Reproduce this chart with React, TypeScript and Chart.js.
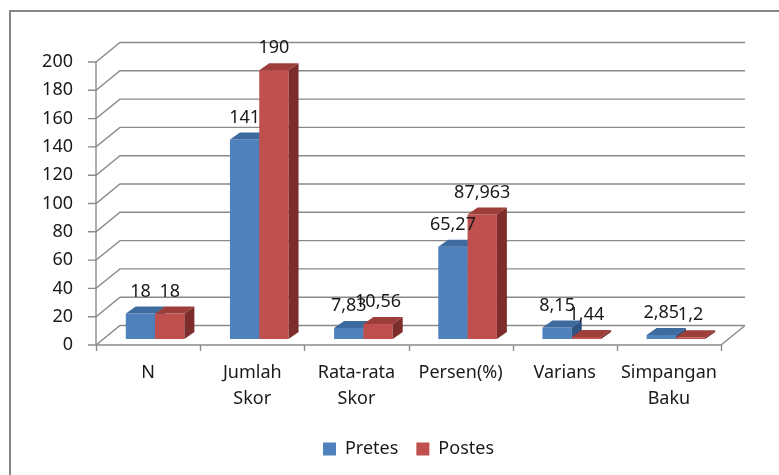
import React, { useEffect, useRef } from "react";
import { Chart, registerables } from "chart.js";

Chart.register(...registerables);

const categories: (string | string[])[] = [
  "N",
  ["Jumlah", "Skor"],
  ["Rata-rata", "Skor"],
  "Persen(%)",
  "Varians",
  ["Simpangan", "Baku"],
];
const pretesValues = [18, 141, 7.83, 65.27, 8.15, 2.85];
const postesValues = [18, 190, 10.56, 87.963, 1.44, 1.2];
const seriesNames = ["Pretes", "Postes"];
const yTicks = { min: 0, max: 200, step: 20 };

const FONT = "'Noto Sans', sans-serif";
const TEXT = "#1a1a1a";
const GRID = "#8a8a8a";
const FRONT = ["#4F81BD", "#C0504D"];
const TOP = ["#3E6B9F", "#9E3E3B"];
const SIDE = ["#2F5482", "#7D2D2B"];

// 3D geometry
const WALL_DX = 24;
const WALL_DY = -19.5;
const BAR_OFF_X = 7;
const BAR_OFF_Y = -6;
const BAR_DX = 10;
const BAR_DY = -7;

const fmt = (v: number) => String(v).replace(".", ",");

const threeD = {
  id: "threeD",
  beforeDatasetsDraw(chart: any) {
    const { ctx, chartArea, scales } = chart;
    const y = scales.y;
    ctx.save();
    // outer border
    ctx.strokeStyle = "#868686";
    ctx.lineWidth = 2;
    ctx.strokeRect(10, 11, 900, 600);

    ctx.strokeStyle = GRID;
    ctx.lineWidth = 1.4;
    const L = chartArea.left;
    const R = chartArea.right;
    // gridlines on wall
    y.ticks.forEach((t: any) => {
      const py = y.getPixelForValue(t.value);
      ctx.beginPath();
      ctx.moveTo(L - 8, py);
      ctx.lineTo(L, py);
      ctx.lineTo(L + WALL_DX, py + WALL_DY);
      ctx.lineTo(R + WALL_DX, py + WALL_DY);
      ctx.stroke();
    });
    // y axis line
    ctx.beginPath();
    ctx.moveTo(L, y.getPixelForValue(yTicks.max));
    ctx.lineTo(L, y.getPixelForValue(0));
    ctx.stroke();
    // floor front + right edge
    const by = y.getPixelForValue(0);
    ctx.beginPath();
    ctx.moveTo(L, by);
    ctx.lineTo(R, by);
    ctx.lineTo(R + WALL_DX, by + WALL_DY);
    ctx.stroke();
    // category ticks
    const n = categories.length;
    const cw = (R - L) / n;
    for (let i = 0; i <= n; i++) {
      const px = Math.round(L + i * cw) + 0.5;
      ctx.beginPath();
      ctx.moveTo(px, by);
      ctx.lineTo(px, by + 6);
      ctx.stroke();
    }

    // bars
    for (let i = 0; i < n; i++) {
      chart.data.datasets.forEach((ds: any, di: number) => {
        const meta = chart.getDatasetMeta(di);
        const el: any = meta.data[i];
        const w = el.width;
        const x0 = el.x - w / 2 + BAR_OFF_X;
        const x1 = el.x + w / 2 + BAR_OFF_X;
        const yt = el.y + BAR_OFF_Y;
        const yb = el.base + BAR_OFF_Y;
        // front
        ctx.fillStyle = FRONT[di];
        ctx.fillRect(x0, yt, x1 - x0, yb - yt);
        // top
        ctx.fillStyle = TOP[di];
        ctx.beginPath();
        ctx.moveTo(x0, yt);
        ctx.lineTo(x0 + BAR_DX, yt + BAR_DY);
        ctx.lineTo(x1 + BAR_DX, yt + BAR_DY);
        ctx.lineTo(x1, yt);
        ctx.closePath();
        ctx.fill();
        // side
        ctx.fillStyle = SIDE[di];
        ctx.beginPath();
        ctx.moveTo(x1, yt);
        ctx.lineTo(x1 + BAR_DX, yt + BAR_DY);
        ctx.lineTo(x1 + BAR_DX, yb + BAR_DY);
        ctx.lineTo(x1, yb);
        ctx.closePath();
        ctx.fill();
      });
    }
    // labels
    ctx.fillStyle = TEXT;
    ctx.font = `18px ${FONT}`;
    ctx.textAlign = "center";
    ctx.textBaseline = "middle";
    chart.data.datasets.forEach((ds: any, di: number) => {
      const meta = chart.getDatasetMeta(di);
      meta.data.forEach((el: any, i: number) => {
        ctx.fillText(fmt(ds.data[i]), el.x + BAR_OFF_X, el.y + BAR_OFF_Y - 22);
      });
    });
    ctx.restore();
    // skip the flat native bars; the 3D ones above replace them
    return false;
  },
};

export default function App() {
  const ref = useRef<HTMLCanvasElement>(null);
  useEffect(() => {
    const canvas = ref.current!;
    const chart = new Chart(canvas, {
      type: "bar",
      data: {
        labels: categories,
        datasets: [
          {
            label: seriesNames[0],
            data: pretesValues,
            backgroundColor: FRONT[0],
            borderWidth: 0,
          },
          {
            label: seriesNames[1],
            data: postesValues,
            backgroundColor: FRONT[1],
            borderWidth: 0,
          },
        ],
      },
      options: {
        responsive: false,
        animation: false,
        devicePixelRatio: 1,
        layout: { padding: { top: 62, right: 58, left: 0, bottom: 7 } },
        datasets: {
          bar: { categoryPercentage: 0.5625, barPercentage: 1 },
        },
        plugins: {
          legend: {
            position: "bottom",
            fullSize: false,
            labels: {
              boxWidth: 13,
              boxHeight: 13,
              padding: 18,
              color: TEXT,
              font: { family: FONT, size: 18 },
            },
          },
          tooltip: { enabled: false },
        },
        scales: {
          x: {
            grid: { display: false, drawTicks: false },
            border: { display: false },
            ticks: {
              color: TEXT,
              font: { family: FONT, size: 18, lineHeight: 1.45 },
              padding: 15,
              maxRotation: 0,
              autoSkip: false,
            },
            afterFit: (s: any) => {
              s.height = 77;
            },
          },
          y: {
            min: yTicks.min,
            max: yTicks.max,
            grid: { display: false, drawTicks: false },
            border: { display: false },
            ticks: {
              stepSize: yTicks.step,
              color: TEXT,
              font: { family: FONT, size: 18 },
              padding: 23,
            },
            afterFit: (s: any) => {
              s.width = 96;
            },
          },
        },
      },
      plugins: [threeD],
    });
    return () => chart.destroy();
  }, []);
  return (
    <div style={{ position: "fixed", left: 0, top: 0, width: 779, height: 475, background: "#fff" }}>
      <canvas ref={ref} width={779} height={475} />
    </div>
  );
}
